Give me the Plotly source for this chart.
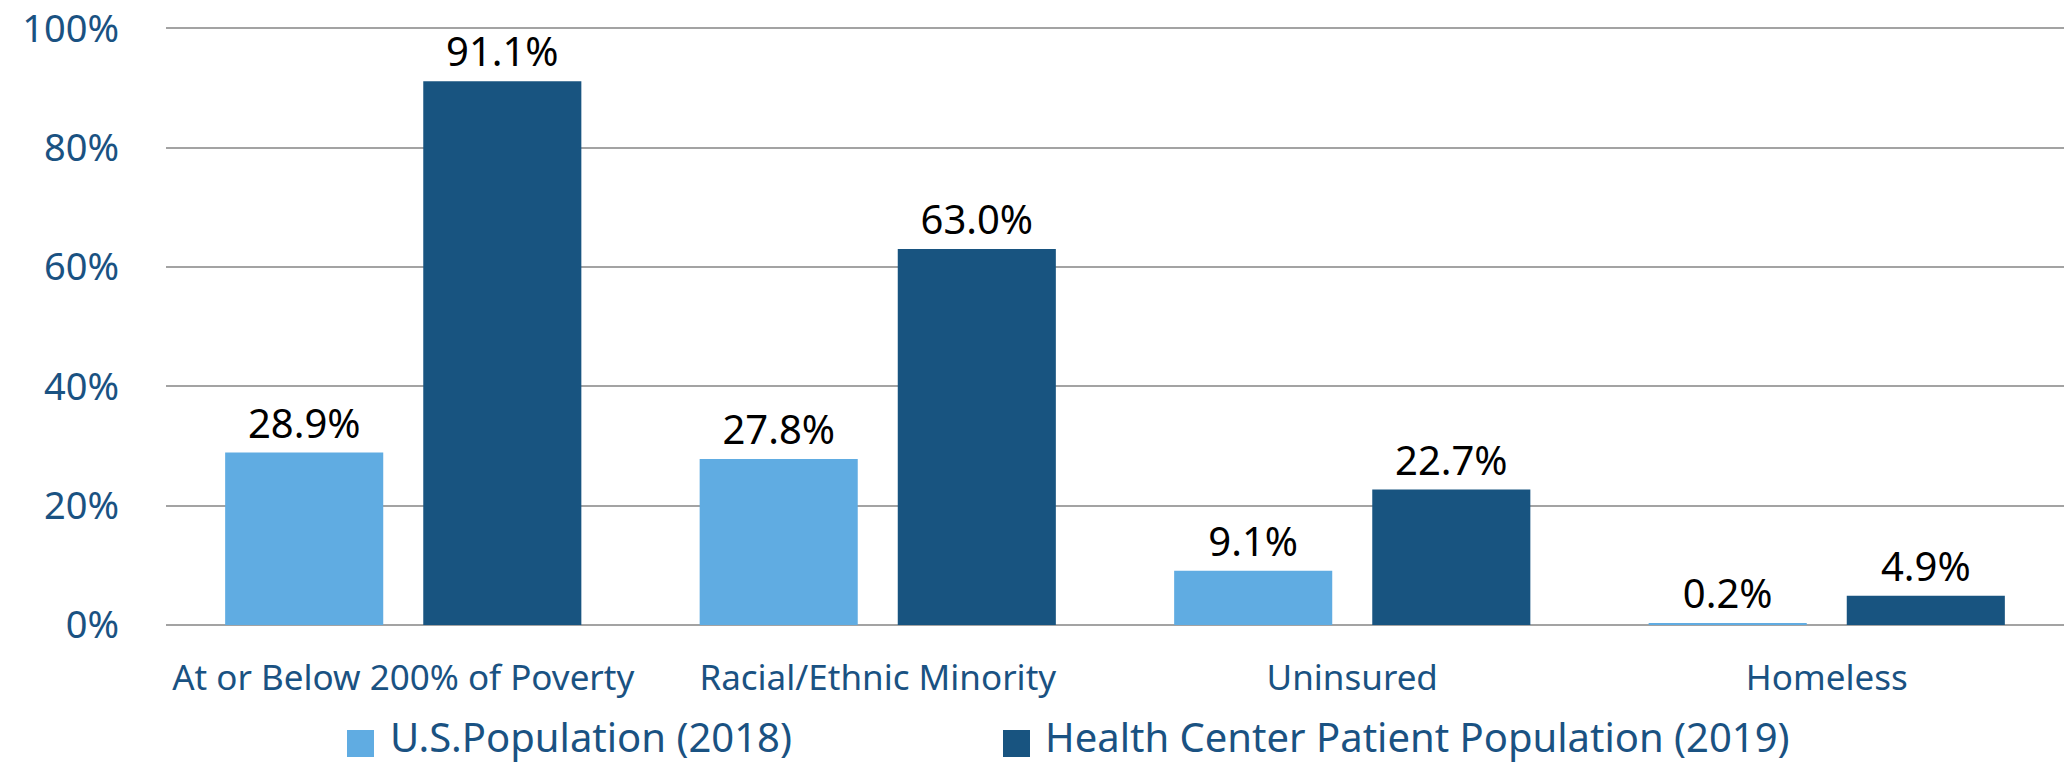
import plotly.graph_objects as go

categories = ["At or Below 200% of Poverty", "Racial/Ethnic Minority", "Uninsured", "Homeless"]
us_population_2018 = [28.9, 27.8, 9.1, 0.2]
health_center_2019 = [91.1, 63.0, 22.7, 4.9]
series_names = ["U.S.Population (2018)", "Health Center Patient Population (2019)"]
y_ticks = [0, 20, 40, 60, 80, 100]
y_tick_labels = [f"{v}%" for v in y_ticks]

LIGHT = "#60ACE2"
DARK = "#185480"
TEXT_BLUE = "#1A5282"
FONT = "Noto Sans"

W, H = 2072, 765

# plot area in page pixels
PL, PR, PT, PB = 166, 2064, 27, 625
L, T, R, B = PL, PT, W - PR, H - PB

fig = go.Figure()
for name, vals, col in [(series_names[0], us_population_2018, LIGHT),
                        (series_names[1], health_center_2019, DARK)]:
    fig.add_trace(go.Bar(
        x=categories, y=vals, name=name,
        marker=dict(color=col, line=dict(width=0)),
        texttemplate="%{y:.1f}%", textposition="outside",
        textfont=dict(family=FONT, size=40, color="black"),
        cliponaxis=False, showlegend=False,
    ))

pw, ph = PR - PL, PB - PT
def page2paper(x, y):
    return (x - PL) / pw, (PB - y) / ph

legend_items = [(series_names[0], LIGHT, 347, 388), (series_names[1], DARK, 1003, 1043)]
for name, col, sq_x, tx in legend_items:
    x0, y0 = page2paper(sq_x, 757)
    x1, y1 = page2paper(sq_x + 27, 730)
    fig.add_shape(type="rect", xref="paper", yref="paper", x0=x0, y0=y0, x1=x1, y1=y1,
                  fillcolor=col, line=dict(width=0))
    ax, ay = page2paper(tx, 737)
    fig.add_annotation(xref="paper", yref="paper", x=ax, y=ay, text=name,
                       xanchor="left", yanchor="middle", showarrow=False,
                       font=dict(family=FONT, size=40, color=TEXT_BLUE))

fig.update_layout(
    width=W, height=H,
    margin=dict(l=L, r=R, t=T, b=B, pad=0, autoexpand=False),
    paper_bgcolor="white", plot_bgcolor="white",
    barmode="group", bargap=0.165, bargroupgap=0.202,
    showlegend=False,
    font=dict(family=FONT, color=TEXT_BLUE),
)
fig.update_yaxes(
    range=[0, 100.2], tickmode="array", tickvals=y_ticks, ticktext=y_tick_labels,
    tickfont=dict(family=FONT, size=38, color=TEXT_BLUE),
    showgrid=True, gridcolor="#A3A3A3", gridwidth=1.5,
    zeroline=True, zerolinecolor="#A3A3A3", zerolinewidth=1.5,
    showline=False, ticks="", ticklabelstandoff=46, ticklabeloverflow="allow",
    automargin=False,
)
fig.update_xaxes(
    tickfont=dict(family=FONT, size=35, color=TEXT_BLUE),
    showline=False, ticks="", ticklabelstandoff=29, showgrid=False,
    automargin=False,
)

fig.write_html("out.html",
               config={"displayModeBar": False},
               post_script="document.body.style.margin='0';document.body.style.overflow='hidden';")
